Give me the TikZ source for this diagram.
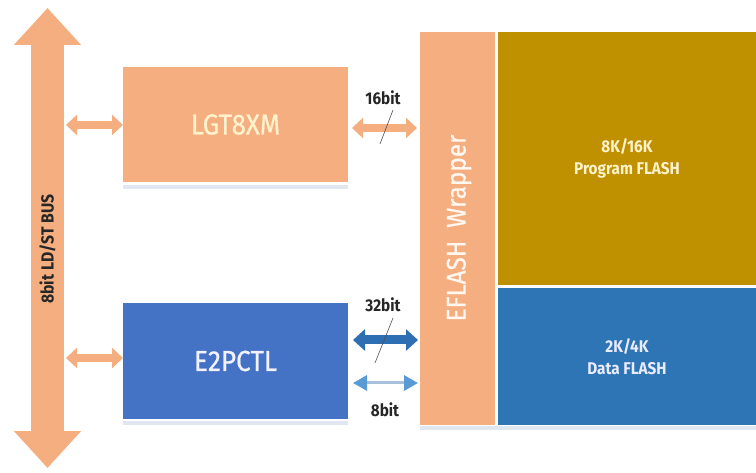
\documentclass[tikz,border=0pt]{standalone}
\usepackage{fontspec}
\setmainfont{Fira Sans}
\newfontfamily\condf[FakeStretch=0.9]{Fira Sans}
\newfontfamily\medf[FakeStretch=0.9,FakeBold=0.6]{Fira Sans}
\usetikzlibrary{arrows.meta,calc}
\definecolor{salmon}{HTML}{F4AE80}
\definecolor{gold}{HTML}{BF9000}
\definecolor{boxblue}{HTML}{4472C4}
\definecolor{datablue}{HTML}{2E75B6}
\definecolor{arrblue}{HTML}{2E6FB3}
\definecolor{lightblue}{HTML}{5B9BD5}
\definecolor{shaftblue}{HTML}{A8C0DC}
\definecolor{cream}{HTML}{FFF2CC}
\definecolor{shadowc}{HTML}{E1E7F0}
\definecolor{labelc}{HTML}{262626}
\tikzset{
  block/.style={inner sep=0pt, outer sep=0pt, anchor=north west},
  bigtxt/.style={font=\medf\fontsize{29}{31}\selectfont},
  memtxt/.style={font=\condf\bfseries\fontsize{17}{22}\selectfont, align=center},
  bitlbl/.style={font=\condf\bfseries\fontsize{17}{19}\selectfont, text=labelc},
  orarrow/.style={draw=salmon, line width=8pt, {Triangle[width=20pt,length=11pt]}-{Triangle[width=20pt,length=11pt]}},
  widearrow/.style={draw=arrblue, line width=9pt, {Triangle[width=21pt,length=12pt]}-{Triangle[width=21pt,length=12pt]}},
  thinarrow/.style={draw=shaftblue, line width=3pt, {Triangle[width=15pt,length=14pt,fill=lightblue,color=lightblue]}-{Triangle[width=15pt,length=14pt,fill=lightblue,color=lightblue]}},
  slash/.style={draw=labelc!80, line width=0.6pt},
}
\begin{document}
\begin{tikzpicture}[x=1pt,y=-1pt]
\useasboundingbox[fill=white] (0,0) rectangle (756,473);
% shadows
\fill[shadowc] (123,185) rectangle (348,189);
\fill[shadowc] (123,421) rectangle (348,425);
\fill[shadowc] (420,426) rectangle (756,430);
% bus
\coordinate (bustop) at (47.5,8);
\coordinate (busbot) at (47.5,468);
\draw[draw=salmon, line width=33pt, {Triangle[width=65pt,length=37pt]}-{Triangle[width=65pt,length=37pt]}] (bustop) -- (busbot);
\node[rotate=90, font=\condf\bfseries\fontsize{17.5}{19}\selectfont, text=labelc] (bus) at (47.5,249) {8bit LD/ST BUS};
% blocks
\node[block, fill=salmon, minimum width=225pt, minimum height=115pt] (lgt) at (123,67) {};
\node[bigtxt, text=cream] (lgtt) at (lgt.center) {LGT8XM};
\node[block, fill=boxblue, minimum width=225pt, minimum height=116pt] (e2p) at (123,303) {};
\node[bigtxt, text=white!95!blue] (e2pt) at (e2p.center) {E2PCTL};
\node[block, fill=salmon, minimum width=75pt, minimum height=393pt] (wrap) at (420,32) {};
\node[rotate=90, font=\medf\fontsize{27}{29}\selectfont, text=white!94!orange] (wrapt) at (459,228) {EFLASH\ \ Wrapper};
\node[block, fill=gold, minimum width=258pt, minimum height=253pt] (prog) at (498,32) {};
\node[memtxt, text=cream] (progt) at (prog.center) {8K/16K\\Program FLASH};
\node[block, fill=datablue, minimum width=258pt, minimum height=137pt] (data) at (498,288) {};
\node[memtxt, text=white!92!blue] (datat) at (data.center) {2K/4K\\Data FLASH};
% anchor coordinates
\coordinate (b1) at (66,125);
\coordinate (b2) at (66,358);
\coordinate (l1) at (lgt.west |- b1);
\coordinate (l2) at (e2p.west |- b2);
\coordinate (a16s) at (352,128);
\coordinate (a16e) at (wrap.west |- a16s);
\coordinate (a32s) at (353,340);
\coordinate (a32e) at (wrap.west |- a32s);
\coordinate (a8s) at (353,383);
\coordinate (a8e) at (wrap.west |- a8s);
% bus to blocks
\draw[orarrow] (b1) -- (l1);
\draw[orarrow] (b2) -- (l2);
% blocks to wrapper
\draw[orarrow] (a16s) -- ($(a16e)+(-3,0)$);
\draw[widearrow] (a32s) -- ($(a32e)+(-2,0)$);
\draw[thinarrow] (a8s) -- ($(a8e)+(-2,0)$);
% labels and slashes
\node[bitlbl] (l16) at (383,98) {16bit};
\node[bitlbl] (l32) at (383,305) {32bit};
\node[bitlbl] (l8) at (385,410) {8bit};
\coordinate (s16a) at (393,110);
\coordinate (s16b) at (380,144);
\coordinate (s32a) at (393,318);
\coordinate (s32b) at (375,363);
\draw[slash] (s16a) -- (s16b);
\draw[slash] (s32a) -- (s32b);
\end{tikzpicture}
\end{document}
